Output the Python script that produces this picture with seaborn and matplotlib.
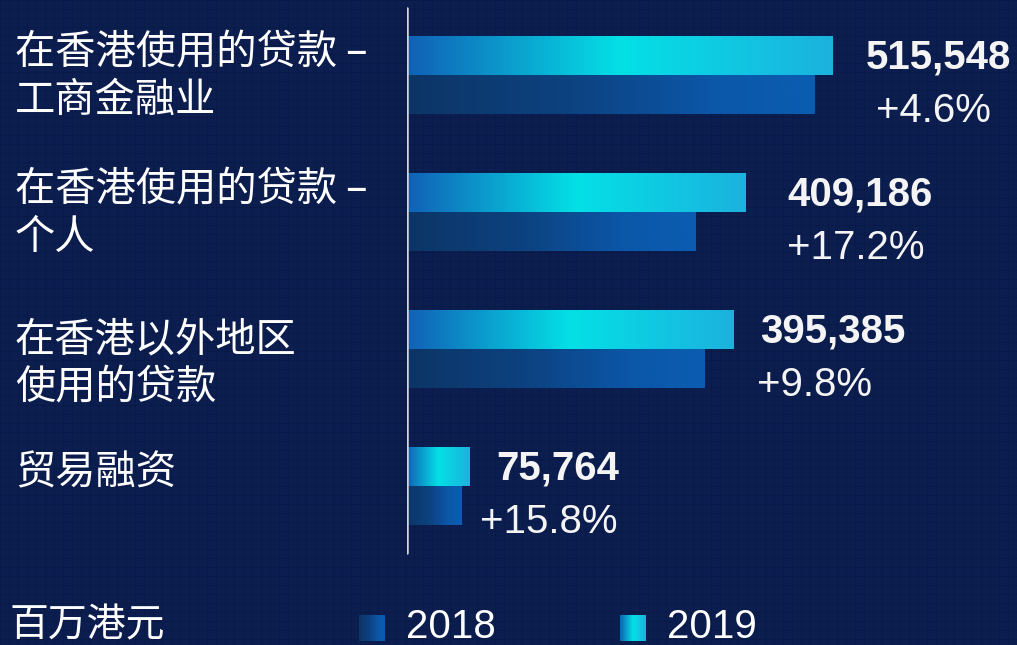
import numpy as np
import pandas as pd
import seaborn as sns
import matplotlib.pyplot as plt
import matplotlib.transforms as mtransforms
from matplotlib.colors import LinearSegmentedColormap

sns.set_theme(style="white")
plt.rcParams['font.family'] = ['Noto Sans CJK SC', 'DejaVu Sans']

categories = ["在香港使用的贷款 –\n工商金融业", "在香港使用的贷款 –\n个人",
              "在香港以外地区\n使用的贷款", "贸易融资"]
values_2019 = [515548, 409186, 395385, 75764]
values_2018 = [492876, 349135, 360096, 65427]
changes = ["+4.6%", "+17.2%", "+9.8%", "+15.8%"]
years = ["2019", "2018"]

df = pd.DataFrame({
    "category": categories * 2,
    "year": ["2019"] * 4 + ["2018"] * 4,
    "value": values_2019 + values_2018,
})

bg = "#0c1d4f"
grad19 = LinearSegmentedColormap.from_list(
    "g19", [(0, "#1160b6"), (0.5, "#04e0e6"), (1, "#1cb2de")])
grad18 = LinearSegmentedColormap.from_list(
    "g18", [(0, "#0c3566"), (0.4, "#0d4280"), (0.75, "#0b57a8"), (1, "#0b5db2")])
ramp = np.linspace(0, 1, 256).reshape(1, -1)

fig = plt.figure(figsize=(10.17, 6.45), dpi=100)
fig.patch.set_facecolor(bg)

# faint grid texture in the background
bgax = fig.add_axes([0, 0, 1, 1], zorder=-5)
tex = np.zeros((645, 1017))
tex[::9, :] = 1
tex[:, ::9] = 1
bgax.imshow(tex, cmap=LinearSegmentedColormap.from_list("t", [bg, "#0a1a46"]),
            aspect="auto", interpolation="nearest")
bgax.axis("off")

ax = fig.add_axes([407 / 1017, 0, 610 / 1017, 1])
ax.set_facecolor("none")

sns.barplot(data=df, y="category", x="value", hue="year", hue_order=years,
            orient="h", width=0.57, saturation=1, legend=False, ax=ax)

xmax = 610 / 426 * values_2019[0]
for cont, cmap in zip(ax.containers, [grad19, grad18]):
    for bar in cont:
        x0, y0, w, h = bar.get_x(), bar.get_y(), bar.get_width(), bar.get_height()
        im = ax.imshow(ramp, cmap=cmap, aspect="auto", interpolation="bicubic",
                       extent=[x0, x0 + w, y0 + h, y0], zorder=2)
        im.set_clip_path(bar)
        bar.set_facecolor("none")
        bar.set_edgecolor("none")

ax.set_xlim(0, xmax)
ax.set_ylim((645 - 75) / 137, -75 / 137)
ax.axvline(0, ymin=1 - 553 / 645, ymax=1 - 8 / 645, color="#d6d6d6", lw=1.8, zorder=3)
ax.set_xticks([])
ax.set_yticks([])
ax.set_xlabel("")
ax.set_ylabel("")
for s in ax.spines.values():
    s.set_visible(False)

label_dx = [33, 42, 26, 27]
pct_dx = [43, 42, 23, 10]
for i, (v, c) in enumerate(zip(values_2019, changes)):
    ax.annotate(f"{v:,}", xy=(v, i - 0.13), xytext=(label_dx[i], 0),
                textcoords="offset pixels", ha="left", va="center",
                color="#f4f4f4", fontsize=29, fontweight="bold",
                family="Liberation Sans")
    ax.annotate(c, xy=(v, i + 0.26), xytext=(pct_dx[i], 0),
                textcoords="offset pixels", ha="left", va="center",
                color="#f4f4f4", fontsize=29, family="Liberation Sans")

trans = mtransforms.blended_transform_factory(fig.transFigure, ax.transData)
label_dy = [-0.31, -0.31, -0.215, -0.245]
for i, cat in enumerate(categories):
    ax.text(15 / 1017, i + label_dy[i], cat, transform=trans, ha="left", va="top",
            color="white", fontsize=29, fontweight="light", linespacing=1.2)

# legend
fig.text(10 / 1017, 1 - 625 / 645, "百万港元", color="white", fontsize=28,
         fontweight="light", ha="left", va="center")
for px, cmap, yr in [(359, grad18, "2018"), (620, grad19, "2019")]:
    lax = fig.add_axes([px / 1017, 1 - 641 / 645, 26 / 1017, 26 / 645])
    lax.imshow(ramp, cmap=cmap, aspect="auto", interpolation="bicubic")
    lax.axis("off")
    fig.text((px + 47) / 1017, 1 - 627 / 645, yr, color="white", fontsize=29,
             ha="left", va="center", family="Liberation Sans")

fig.savefig("out.png", dpi=100, facecolor=bg)
